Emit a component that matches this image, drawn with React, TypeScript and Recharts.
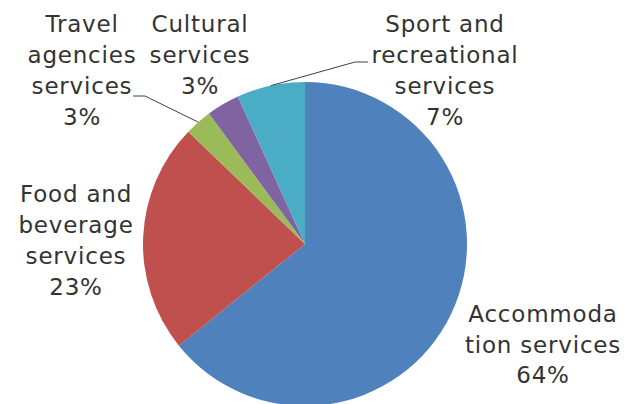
import React from 'react';
import { PieChart, Pie, Cell } from 'recharts';

const categories = [
  'Accommodation services',
  'Food and beverage services',
  'Travel agencies services',
  'Cultural services',
  'Sport and recreational services',
];
const shares = [64.2, 23.0, 2.7, 3.3, 6.8];
const percentLabels = ['64%', '23%', '3%', '3%', '7%'];
const labelLines = [
  ['Accommoda', 'tion services'],
  ['Food and', 'beverage', 'services'],
  ['Travel', 'agencies', 'services'],
  ['Cultural', 'services'],
  ['Sport and', 'recreational', 'services'],
];
const colors = ['#4F81BD', '#C0504D', '#9BBB59', '#8064A2', '#4BACC6'];

// where each label block sits (centre x, first baseline), plus leader elbow if any
type LabelPos = { x: number; y: number; lh: number; elbow?: [number, number]; tail?: number };
const labelPos: LabelPos[] = [
  { x: 543, y: 322, lh: 30.5 },
  { x: 76, y: 202, lh: 31 },
  { x: 82, y: 32, lh: 31, elbow: [145, 96], tail: 133 },
  { x: 200, y: 32, lh: 31 },
  { x: 445, y: 32, lh: 31, elbow: [355, 62], tail: 368 },
];

const RADIAN = Math.PI / 180;
const font = '"DejaVu Sans", sans-serif';

const renderLabel = (props: any) => {
  const { cx, cy, midAngle, outerRadius, index } = props;
  const pos = labelPos[index];
  const lines = [...labelLines[index], percentLabels[index]];
  let leader = null;
  if (pos.elbow) {
    const sx = cx + outerRadius * Math.cos(-midAngle * RADIAN);
    const sy = cy + outerRadius * Math.sin(-midAngle * RADIAN);
    leader = (
      <polyline
        points={`${sx},${sy} ${pos.elbow[0]},${pos.elbow[1]} ${pos.tail},${pos.elbow[1]}`}
        fill="none"
        stroke="#404040"
        strokeWidth={1}
      />
    );
  }
  return (
    <g key={`lbl-${index}`}>
      {leader}
      <text
        x={pos.x}
        y={pos.y}
        textAnchor="middle"
        fill="#333"
        style={{ fontFamily: font, fontSize: 23, letterSpacing: 0.8 }}
      >
        {lines.map((t, i) => (
          <tspan key={i} x={pos.x} y={pos.y + i * pos.lh}>
            {t}
          </tspan>
        ))}
      </text>
    </g>
  );
};

export default function App() {
  const data = categories.map((name, i) => ({ name, value: shares[i] }));

  return (
    <div style={{ position: 'absolute', left: 0, top: 0, background: '#fff' }}>
      <PieChart width={632} height={404} margin={{ top: 0, right: 0, bottom: 0, left: 0 }}>
        <Pie
          data={data}
          dataKey="value"
          nameKey="name"
          cx={305}
          cy={244}
          outerRadius={162}
          startAngle={90}
          endAngle={-270}
          stroke="none"
          label={renderLabel}
          labelLine={false}
          isAnimationActive={false}
        >
          {data.map((d, i) => (
            <Cell key={d.name} fill={colors[i]} />
          ))}
        </Pie>
      </PieChart>
    </div>
  );
}
